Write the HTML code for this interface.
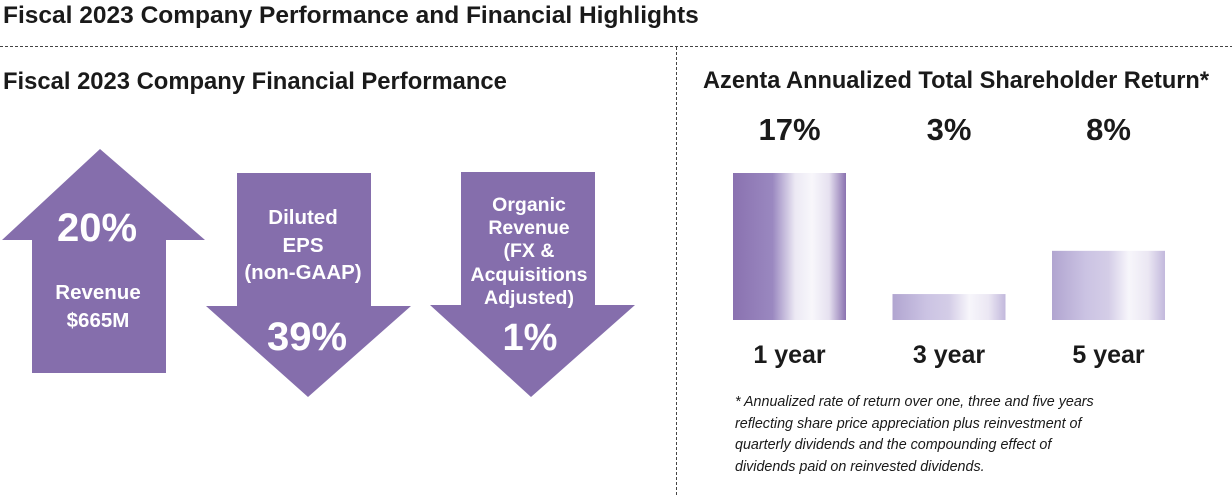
<!DOCTYPE html>
<html><head><meta charset="utf-8"><style>
body{margin:0;width:1232px;height:496px;background:#fff;font-family:"Liberation Sans",sans-serif;overflow:hidden;position:relative}
.t{position:absolute;font-weight:bold;color:#1a1a1a;white-space:nowrap}
</style></head><body>
<div class="t" style="left:3px;top:2px;font-size:24.5px">Fiscal 2023 Company Performance and Financial Highlights</div>
<div class="t" style="left:3px;top:68px;font-size:23.8px">Fiscal 2023 Company Financial Performance</div>
<div class="t" style="left:703px;top:68px;font-size:23.6px">Azenta Annualized Total Shareholder Return*</div>
<svg width="1232" height="496" style="position:absolute;left:0;top:0" font-family="Liberation Sans, sans-serif" font-weight="bold">
<defs>
<linearGradient id="g1" x1="0" x2="1"><stop offset="0" stop-color="#8a72b0"/><stop offset="0.35" stop-color="#9a88c0"/><stop offset="0.55" stop-color="#ece9f4"/><stop offset="0.7" stop-color="#f8f7fb"/><stop offset="0.85" stop-color="#e6e1f0"/><stop offset="1" stop-color="#8a72b0"/></linearGradient>
<linearGradient id="g2" x1="0" x2="1"><stop offset="0" stop-color="#b1a5d0"/><stop offset="0.3" stop-color="#cbc3e3"/><stop offset="0.5" stop-color="#d4cde7"/><stop offset="0.68" stop-color="#f7f6fb"/><stop offset="0.85" stop-color="#ebe7f3"/><stop offset="1" stop-color="#c2b8dc"/></linearGradient>
</defs>
<line x1="0" y1="46.5" x2="1232" y2="46.5" stroke="#444" stroke-width="1" stroke-dasharray="3,2"/>
<line x1="676.5" y1="47" x2="676.5" y2="496" stroke="#444" stroke-width="1" stroke-dasharray="3,2"/>
<polygon fill="#856eac" points="100,149 205,240 166,240 166,373 32,373 32,240 2,240"/>
<polygon fill="#856eac" points="237,173 371,173 371,306 411,306 308,397 206,306 237,306"/>
<polygon fill="#856eac" points="461,172 595,172 595,305 635,305 531,397 430,305 461,305"/>
<g fill="#fff" text-anchor="middle">
<text x="97" y="241" font-size="40">20%</text>
<text x="98" y="299" font-size="20.5">Revenue</text>
<text x="98" y="327" font-size="20.5">$665M</text>
<text x="303" y="224" font-size="20.5">Diluted</text>
<text x="303" y="252" font-size="20.5">EPS</text>
<text x="303" y="279" font-size="20.5">(non-GAAP)</text>
<text x="307" y="350" font-size="40">39%</text>
<text x="529" y="211" font-size="19.5">Organic</text>
<text x="529" y="234" font-size="19.5">Revenue</text>
<text x="529" y="257" font-size="19.5">(FX &amp;</text>
<text x="529" y="281" font-size="19.5">Acquisitions</text>
<text x="529" y="304" font-size="19.5">Adjusted)</text>
<text x="530" y="350" font-size="38">1%</text>
</g>
<g id="bars"></g>
</svg>
<div style="position:absolute;left:735px;top:392px;font-size:14.3px;font-style:italic;line-height:21.7px;color:#1a1a1a">* Annualized rate of return over one, three and five years<br>reflecting share price appreciation plus reinvestment of<br>quarterly dividends and the compounding effect of<br>dividends paid on reinvested dividends.</div>
<script>
const categories=["1 year","3 year","5 year"];
const values=[17,3,8];
const valueLabels=["17%","3%","8%"];
const g=document.getElementById('bars');
const ns='http://www.w3.org/2000/svg';
const base=320, scale=147/17, x0=733, step=159.5, bw=113;
function y(v){return base-v*scale;}
categories.forEach((c,i)=>{
  const x=x0+i*step;
  const r=document.createElementNS(ns,'rect');
  
  
  r.setAttribute('x',x);r.setAttribute('y',y(values[i]));r.setAttribute('width',bw);r.setAttribute('height',base-y(values[i]));
  r.setAttribute('fill',i==0?'url(#g1)':'url(#g2)');
  g.appendChild(r);
  const t=document.createElementNS(ns,'text');
  
  
  t.setAttribute('x',x+bw/2);t.setAttribute('y',140);t.setAttribute('text-anchor','middle');t.setAttribute('font-size','31');t.setAttribute('fill','#1a1a1a');
  t.textContent=valueLabels[i];g.appendChild(t);
  const l=document.createElementNS(ns,'text');
  
  
  l.setAttribute('x',x+bw/2);l.setAttribute('y',363);l.setAttribute('text-anchor','middle');l.setAttribute('font-size','25');l.setAttribute('fill','#1a1a1a');
  l.textContent=c;g.appendChild(l);
});
</script>
</body></html>
